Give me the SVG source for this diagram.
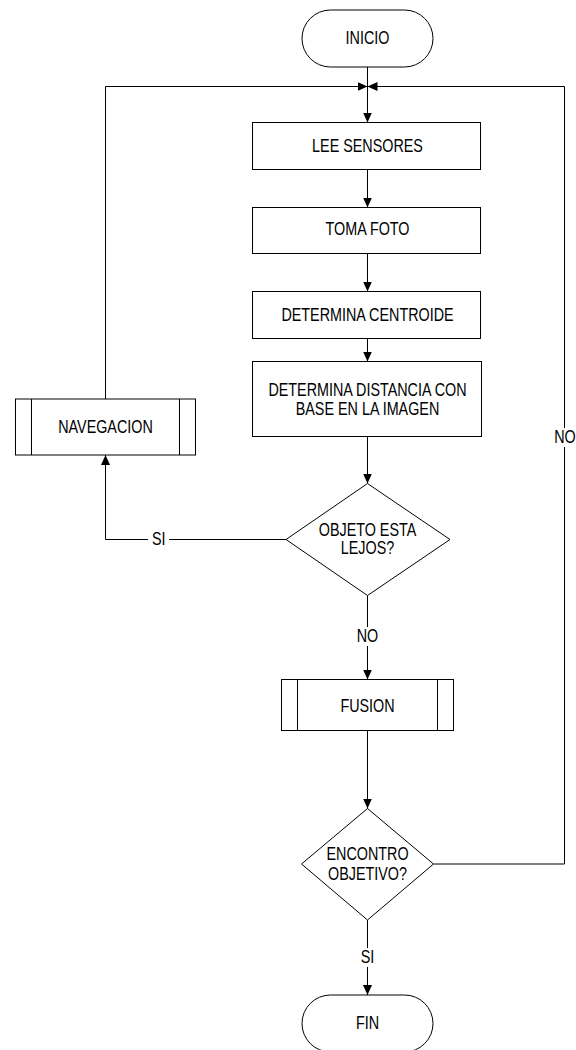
<svg xmlns="http://www.w3.org/2000/svg" width="576" height="1050" viewBox="0 0 576 1050">
<style>
.shape{fill:#fff;stroke:#000;stroke-width:1}
.line{fill:none;stroke:#000;stroke-width:1}
.t{font-family:"Liberation Sans",Arial,sans-serif;font-size:17.5px;text-anchor:middle;fill:#000}
.bg{fill:#fff;stroke:none}
</style>
<defs>
<marker id="arr" markerUnits="userSpaceOnUse" markerWidth="10" markerHeight="9" refX="10" refY="4.5" orient="auto">
<path d="M0,0 L10,4.5 L0,9 z" fill="#000"/>
</marker>
</defs>
<rect width="576" height="1050" fill="#fff"/>
<g id="connectors">
<path class="line" d="M367.5,67 V122.5" marker-end="url(#arr)"/>
<path class="line" d="M105.5,399 V86.5 H367.5" marker-end="url(#arr)"/>
<path class="line" d="M433.5,864 H564.5 V86.5 H367.5" marker-end="url(#arr)"/>
<path class="line" d="M367.5,169.5 V207.5" marker-end="url(#arr)"/>
<path class="line" d="M367.5,253.5 V291.5" marker-end="url(#arr)"/>
<path class="line" d="M367.5,338.5 V361.5" marker-end="url(#arr)"/>
<path class="line" d="M367.5,436.5 V483.5" marker-end="url(#arr)"/>
<path class="line" d="M286,539.5 H105.5 V455" marker-end="url(#arr)"/>
<path class="line" d="M367.5,595.5 V679.5" marker-end="url(#arr)"/>
<path class="line" d="M367.5,730.5 V808.5" marker-end="url(#arr)"/>
<path class="line" d="M367.5,920 V995" marker-end="url(#arr)"/>
<rect class="bg" x="148" y="530" width="21" height="19"/>
<text class="t" transform="translate(158.7,545) scale(0.82,1)">SI</text>
<rect class="bg" x="354" y="627" width="27" height="19"/>
<text class="t" transform="translate(367.5,642.3) scale(0.82,1)">NO</text>
<rect class="bg" x="553" y="428" width="23" height="19"/>
<text class="t" transform="translate(565,443.3) scale(0.82,1)">NO</text>
<rect class="bg" x="357" y="948" width="21" height="19"/>
<text class="t" transform="translate(367.5,963.3) scale(0.82,1)">SI</text>
</g>
<g id="inicio">
<rect class="shape" x="302" y="10" width="131" height="57" rx="28.5" ry="28.5"/>
<text class="t" transform="translate(367.5,44.3) scale(0.82,1)">INICIO</text>
</g>
<g id="lee-sensores">
<rect class="shape" x="252.5" y="122.5" width="228" height="47"/>
<text class="t" transform="translate(367.5,151.7) scale(0.82,1)">LEE SENSORES</text>
</g>
<g id="toma-foto">
<rect class="shape" x="252.5" y="207.5" width="228" height="46"/>
<text class="t" transform="translate(367.5,235) scale(0.82,1)">TOMA FOTO</text>
</g>
<g id="determina-centroide">
<rect class="shape" x="252.5" y="291.5" width="228" height="47"/>
<text class="t" transform="translate(367.5,321) scale(0.82,1)">DETERMINA CENTROIDE</text>
</g>
<g id="determina-distancia">
<rect class="shape" x="252.5" y="361.5" width="229" height="75"/>
<text class="t" transform="translate(367.5,395.5) scale(0.82,1)">DETERMINA DISTANCIA CON</text>
<text class="t" transform="translate(367.5,414.5) scale(0.82,1)">BASE EN LA IMAGEN</text>
</g>
<g id="navegacion">
<rect class="shape" x="15.5" y="399" width="180" height="56"/>
<path class="line" d="M31.5,399 V455 M179.5,399 V455"/>
<text class="t" transform="translate(105.5,432.7) scale(0.82,1)">NAVEGACION</text>
</g>
<g id="objeto-lejos">
<polygon class="shape" points="367.5,483.5 450,539.5 367.5,595.5 286,539.5"/>
<text class="t" transform="translate(367.5,535.7) scale(0.82,1)">OBJETO ESTA</text>
<text class="t" transform="translate(367.5,554) scale(0.82,1)">LEJOS?</text>
</g>
<g id="fusion">
<rect class="shape" x="281.5" y="679.5" width="172" height="51"/>
<path class="line" d="M297.5,679.5 V730.5 M437.5,679.5 V730.5"/>
<text class="t" transform="translate(367.5,711.7) scale(0.82,1)">FUSION</text>
</g>
<g id="encontro-objetivo">
<polygon class="shape" points="367.5,808.5 433.5,864 367.5,920 301.5,864"/>
<text class="t" transform="translate(367.5,859.5) scale(0.82,1)">ENCONTRO</text>
<text class="t" transform="translate(367.5,880) scale(0.82,1)">OBJETIVO?</text>
</g>
<g id="fin">
<rect class="shape" x="302" y="995" width="131" height="57" rx="28.5" ry="28.5"/>
<text class="t" transform="translate(367.5,1028.5) scale(0.82,1)">FIN</text>
</g>
</svg>
